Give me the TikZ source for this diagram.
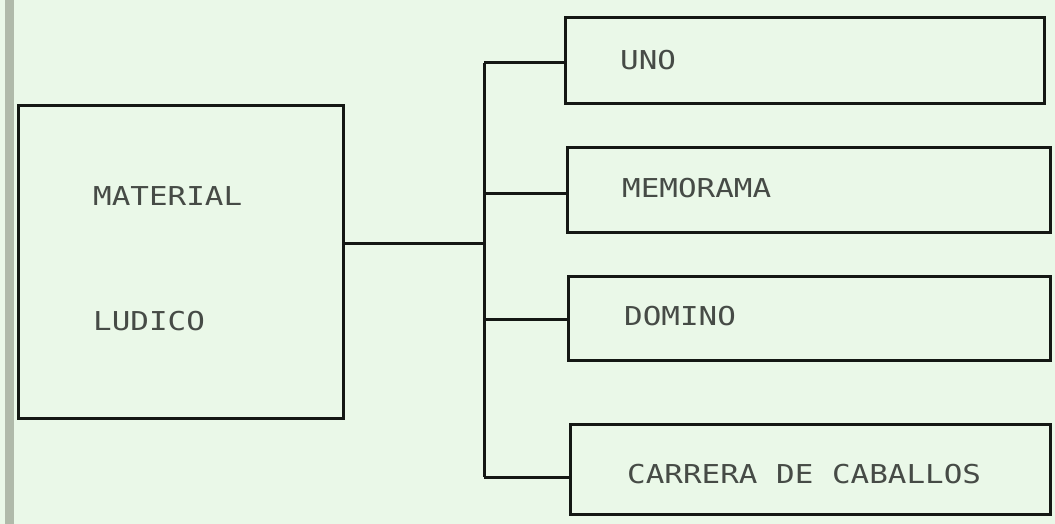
\documentclass[tikz,border=0pt]{standalone}
\usepackage{fontspec}
\newfontfamily\dotfont{DejaVu Sans Mono}
\definecolor{paper}{RGB}{234,248,232}
\definecolor{band}{RGB}{176,186,170}
\definecolor{ink}{RGB}{20,24,20}
\definecolor{textink}{RGB}{70,75,70}
\newcommand{\dm}[1]{\scalebox{1.19}[1]{#1}}
\begin{document}
\begin{tikzpicture}[x=1pt,y=-1pt,
  boxshape/.style={draw=ink,line width=3pt,inner sep=0pt,outer sep=0pt,rectangle},
  lbl/.style={anchor=west,inner sep=0pt,text=textink,font=\dotfont\fontsize{26}{26}\selectfont},
  wire/.style={draw=ink,line width=3pt}]
\useasboundingbox (0,0) rectangle (1055,524);
\fill[paper] (0,0) rectangle (1055,524);
\fill[band] (5,0) rectangle (14,524);
% main box
\node[boxshape,minimum width=325pt,minimum height=312pt] (main) at (180.5,262) {};
\node[lbl] (t1) at (93,196) {\dm{MATERIAL}};
\node[lbl] (t2) at (93,321) {\dm{LUDICO}};
% right boxes
\node[boxshape,minimum width=479pt,minimum height=86pt] (uno) at (804.5,61) {};
\node[boxshape,minimum width=483pt,minimum height=84pt] (memo) at (808.5,190) {};
\node[boxshape,minimum width=482pt,minimum height=84pt] (domi) at (809,318) {};
\node[boxshape,minimum width=480pt,minimum height=90pt] (carr) at (810,469) {};
\node[lbl] (l1) at (620,60) {\dm{UNO}};
\node[lbl] (l2) at (622,188) {\dm{MEMORAMA}};
\node[lbl] (l3) at (624,316) {\dm{DOMINO}};
\node[lbl] (l4) at (627,474) {\dm{CARRERA DE CABALLOS}};
% connectors
\coordinate (j) at (484,243);
\coordinate (b1) at (484,63);
\coordinate (b2) at (484,193);
\coordinate (b3) at (484,319);
\coordinate (b4) at (484,477);
\draw[wire] (main.east |- j) -- (j);
\draw[wire] (b1) -- (b4);
\draw[wire] (b1) -- (uno.west |- b1);
\draw[wire] (b2) -- (memo.west |- b2);
\draw[wire] (b3) -- (domi.west |- b3);
\draw[wire] (b4) -- (carr.west |- b4);
\end{tikzpicture}
\end{document}
